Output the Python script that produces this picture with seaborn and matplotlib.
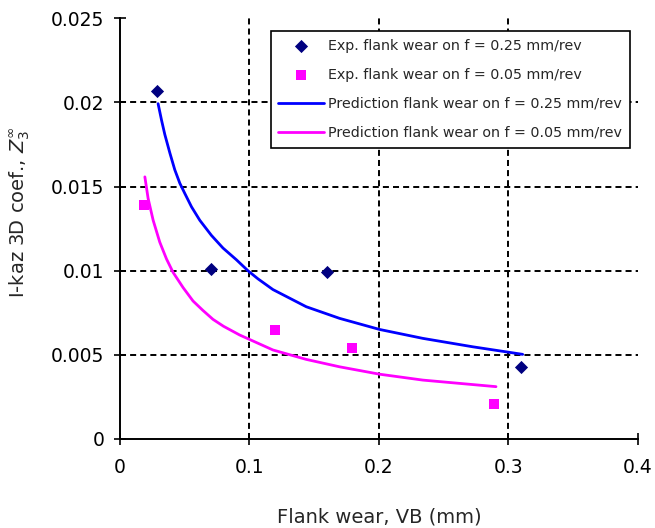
import matplotlib
matplotlib.use("Agg")
import matplotlib.pyplot as plt
import seaborn as sns

sns.set_style("ticks")
plt.rcParams['font.family'] = ['DejaVu Sans']
plt.rcParams['mathtext.fontset'] = 'dejavusans'

# Experimental data
exp25_x = [0.029, 0.070, 0.160, 0.310]
exp25_y = [0.0207, 0.0101, 0.0099, 0.0043]
exp05_x = [0.019, 0.120, 0.179, 0.289]
exp05_y = [0.0139, 0.0065, 0.0054, 0.0021]

# Prediction curves
pred25_x = [0.0295, 0.0322, 0.0347, 0.0386, 0.0424, 0.0463, 0.0501, 0.0553, 0.0617,
            0.0707, 0.0796, 0.0900, 0.0989, 0.1066, 0.1182, 0.1439, 0.1696, 0.2005,
            0.2339, 0.2724, 0.3110]
pred25_y = [0.01993, 0.01894, 0.01810, 0.01700, 0.01600, 0.01520, 0.01460, 0.01380, 0.01300,
            0.01210, 0.01135, 0.01065, 0.01000, 0.00952, 0.00888, 0.00786, 0.00717, 0.00651,
            0.00598, 0.00548, 0.00503]
pred05_x = [0.0193, 0.0218, 0.0257, 0.0308, 0.0360, 0.0411, 0.0488, 0.0565, 0.0640,
            0.0719, 0.0800, 0.0925, 0.1182, 0.1439, 0.1696, 0.2005, 0.2339, 0.2904]
pred05_y = [0.01558, 0.01430, 0.01300, 0.01170, 0.01070, 0.00990, 0.00900, 0.00820, 0.00765,
            0.00711, 0.00670, 0.00618, 0.00529, 0.00473, 0.00429, 0.00385, 0.00350, 0.00311]

labels = ["Exp. flank wear on f = 0.25 mm/rev",
          "Exp. flank wear on f = 0.05 mm/rev",
          "Prediction flank wear on f = 0.25 mm/rev",
          "Prediction flank wear on f = 0.05 mm/rev"]
xticks = [0, 0.1, 0.2, 0.3, 0.4]
xtick_labels = ["0", "0.1", "0.2", "0.3", "0.4"]
yticks = [0, 0.005, 0.01, 0.015, 0.02, 0.025]
ytick_labels = ["0", "0.005", "0.01", "0.015", "0.02", "0.025"]

fig = plt.figure(figsize=(6.55, 5.28), dpi=100)
ax = fig.add_axes([0.183, 0.1686, 0.791, 0.7966])

sns.scatterplot(x=exp25_x, y=exp25_y, ax=ax, marker='D', s=45, color='#000080',
                edgecolor='#000080', linewidth=0, label=labels[0], zorder=4)
sns.scatterplot(x=exp05_x, y=exp05_y, ax=ax, marker='s', s=60, color='#FF00FF',
                edgecolor='#FF00FF', linewidth=0, label=labels[1], zorder=4)
sns.lineplot(x=pred25_x, y=pred25_y, ax=ax, color='#0000FF', linewidth=2.0,
             label=labels[2], sort=False, zorder=3)
sns.lineplot(x=pred05_x, y=pred05_y, ax=ax, color='#FF00FF', linewidth=2.0,
             label=labels[3], sort=False, zorder=3)

ax.set_xlim(0, 0.4)
ax.set_ylim(0, 0.025)
ax.set_xticks(xticks)
ax.set_xticklabels(xtick_labels)
ax.set_yticks(yticks)
ax.set_yticklabels(ytick_labels)
ax.grid(True, which='major', color='black', linestyle=(0, (3.1, 2.1)), linewidth=1.4)
for t in (ax.xaxis.get_major_ticks()[0], ax.xaxis.get_major_ticks()[-1],
          ax.yaxis.get_major_ticks()[0], ax.yaxis.get_major_ticks()[-1]):
    t.gridline.set_visible(False)
ax.tick_params(which='major', direction='inout', length=8, width=1.2, colors='black',
               labelsize=13.5, pad=7)
ax.tick_params(axis='x', pad=10)
for s in ['top', 'right']:
    ax.spines[s].set_visible(False)
for s in ['left', 'bottom']:
    ax.spines[s].set_color('black')
    ax.spines[s].set_linewidth(1.4)

ax.set_xlabel("Flank wear, VB (mm)", fontsize=14, labelpad=22)
ax.set_ylabel(r"I-kaz 3D coef., $Z_3^{\infty}$", fontsize=14)
ax.yaxis.set_label_coords(-0.17, 0.54)

leg = ax.legend(loc='upper right', bbox_to_anchor=(0.985, 0.97), fontsize=10.3,
                frameon=True, fancybox=False, edgecolor='black', framealpha=1,
                borderpad=0.55, labelspacing=1.05, handlelength=3.2, handletextpad=0.3,
                borderaxespad=0)
leg.get_frame().set_linewidth(1.2)

fig.savefig("out.png", dpi=100)
